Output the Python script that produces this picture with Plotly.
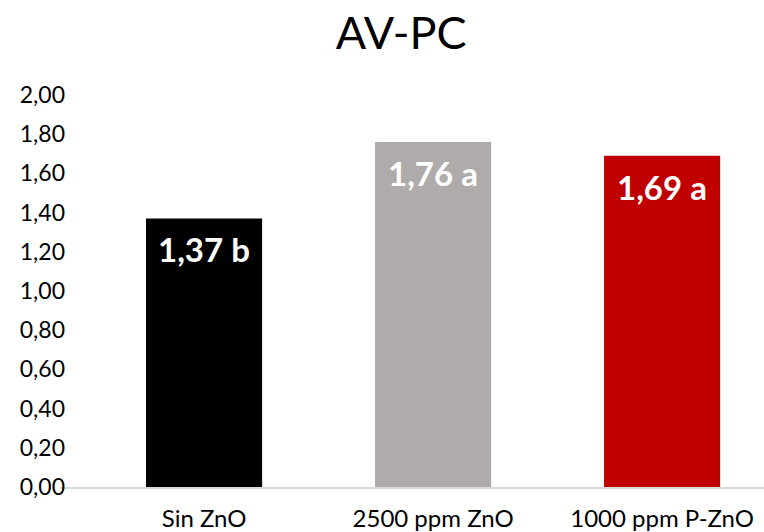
import plotly.graph_objects as go

# Data
categories = ["Sin ZnO", "2500 ppm ZnO", "1000 ppm P-ZnO"]
values = [1.37, 1.76, 1.69]
letters = ["b", "a", "a"]
colors = ["#000000", "#AFABAB", "#C00000"]
tick_vals = [0.0, 0.2, 0.4, 0.6, 0.8, 1.0, 1.2, 1.4, 1.6, 1.8, 2.0]

FONT = "Lato"

def fmt(v):
    return f"{v:.2f}".replace(".", ",")

fig = go.Figure()
fig.add_trace(go.Bar(
    x=list(range(len(categories))),
    y=values,
    marker=dict(color=colors, line=dict(width=0)),
    width=0.507,
    hoverinfo="skip",
))

# Value labels inside the top of each bar
for i, (v, l) in enumerate(zip(values, letters)):
    fig.add_annotation(
        x=i, y=v, text=f"<b>{fmt(v)} {l}</b>",
        showarrow=False, yanchor="top", yshift=-9,
        font=dict(family=FONT, size=33, color="white"),
    )

fig.update_layout(
    width=764, height=532,
    margin=dict(l=60, r=0, t=95, b=45),
    paper_bgcolor="white", plot_bgcolor="white",
    showlegend=False,
    title=dict(text="AV-PC", x=0.525, xanchor="center", y=0.937, yanchor="middle",
               font=dict(family=FONT, size=45, color="#000000")),
    font=dict(family=FONT, color="#000000"),
    xaxis=dict(
        range=[-0.629, 2.445],
        tickmode="array", tickvals=list(range(len(categories))), ticktext=categories,
        showgrid=False, zeroline=False,
        showline=True, linecolor="#D9D9D9", linewidth=2,
        ticks="", tickfont=dict(family=FONT, size=24, color="#000000"),
        ticklabelstandoff=9,
    ),
    yaxis=dict(
        range=[0, 2.0],
        tickmode="array", tickvals=tick_vals, ticktext=[fmt(t) for t in tick_vals],
        showgrid=False, zeroline=False, showline=False, ticks="",
        tickfont=dict(family=FONT, size=23, color="#000000"),
        ticklabelstandoff=-6,
    ),
)

fig.write_html("out.html")
